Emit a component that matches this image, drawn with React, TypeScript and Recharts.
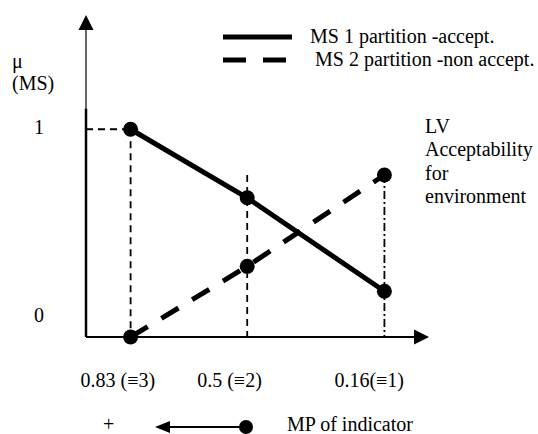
import React from 'react';
import { ComposedChart, Line, XAxis, YAxis, ReferenceLine, ReferenceDot } from 'recharts';

// ---- data ----
const xPositions = [0.13, 0.47, 0.87];
const xTickLabels = ['0.83 (≡3)', '0.5 (≡2)', '0.16(≡1)'];
const ms1Values = [1, 0.67, 0.22];
const ms2Values = [0, 0.34, 0.78];
const yTicks = [0, 1];
const seriesNames = ['MS 1 partition -accept.', ' MS 2 partition -non accept.'];
const yTitle = ['μ', '(MS)'];
const rightLabel = ['LV', 'Acceptability', 'for', 'environment'];
const bottomLabel = 'MP of indicator';
const bottomSign = '+';

const data = xPositions.map((x, i) => ({ x, ms1: ms1Values[i], ms2: ms2Values[i] }));

const FONT = '"Liberation Serif", "Times New Roman", serif';
const FS = 20;
const txt = { fontFamily: FONT, fontSize: FS, fill: '#000' };

const renderDot = (p: any) => (
  <circle key={`dot-${p.dataKey}-${p.index}`} cx={p.cx} cy={p.cy} r={7.5} fill="#000" />
);

const XTick = (p: any) => {
  const v = p.payload && p.payload.value;
  let i = 0;
  let best = Infinity;
  xPositions.forEach((xp, k) => {
    const d = Math.abs(xp - v);
    if (d < best) { best = d; i = k; }
  });
  return (
    <text x={p.x - 50} y={387} style={txt} textAnchor="start">
      {xTickLabels[i]}
    </text>
  );
};

const YTick = (p: any) => {
  const v = p.payload && p.payload.value;
  return (
    <text x={39} y={p.y + (v === 0 ? -15 : 5)} style={txt} textAnchor="middle">
      {String(v)}
    </text>
  );
};

const upArrow = (p: any) => (
  <polygon points={`${p.cx},${p.cy} ${p.cx - 7.5},${p.cy + 15} ${p.cx + 7.5},${p.cy + 15}`} fill="#000" />
);
const rightArrow = (p: any) => (
  <polygon points={`${p.cx},${p.cy} ${p.cx - 15},${p.cy - 7.5} ${p.cx - 15},${p.cy + 7.5}`} fill="#000" />
);

const guide = { stroke: '#000', strokeWidth: 1.8, strokeDasharray: '7 5', ifOverflow: 'visible' as const };

export default function App() {
  return (
    <div style={{ position: 'absolute', left: 0, top: 0, width: 538, height: 434, background: '#fff' }}>
      <ComposedChart
        width={538}
        height={434}
        data={data}
        margin={{ top: 15, right: 109, bottom: 67, left: 46 }}
      >
        <XAxis
          type="number"
          dataKey="x"
          domain={[0, 1]}
          ticks={xPositions}
          interval={0}
          height={30}
          axisLine={false}
          tickLine={false}
          tick={XTick}
        />
        <YAxis
          type="number"
          domain={[0, 1.55]}
          ticks={yTicks}
          interval={0}
          width={40}
          axisLine={false}
          tickLine={false}
          tick={YTick}
        />
        {/* axes */}
        <ReferenceLine segment={[{ x: 0, y: 0 }, { x: 0, y: 1.1 }]} stroke="#000" strokeWidth={2.5} ifOverflow="visible" />
        <ReferenceLine segment={[{ x: 0, y: 1.1 }, { x: 0, y: 1.5 }]} stroke="#000" strokeWidth={1.2} ifOverflow="visible" />
        <ReferenceLine segment={[{ x: 0, y: 0 }, { x: 0.97, y: 0 }]} stroke="#000" strokeWidth={2} ifOverflow="visible" />
        <ReferenceDot x={0} y={1.55} shape={upArrow} ifOverflow="visible" />
        <ReferenceDot x={1} y={0} shape={rightArrow} ifOverflow="visible" />
        {/* guides */}
        <ReferenceLine segment={[{ x: 0, y: ms1Values[0] }, { x: xPositions[0], y: ms1Values[0] }]} {...guide} />
        <ReferenceLine segment={[{ x: xPositions[0], y: ms1Values[0] }, { x: xPositions[0], y: 0 }]} {...guide} />
        <ReferenceLine segment={[{ x: xPositions[1], y: ms2Values[2] }, { x: xPositions[1], y: 0 }]} {...guide} />
        <ReferenceLine
          segment={[{ x: xPositions[2], y: ms2Values[2] }, { x: xPositions[2], y: 0 }]}
          {...guide}
          strokeDasharray="8 3 2 3"
        />
        {/* series */}
        <Line
          dataKey="ms1"
          name={seriesNames[0]}
          type="linear"
          stroke="#000"
          strokeWidth={5}
          dot={renderDot}
          activeDot={false}
          isAnimationActive={false}
        />
        <Line
          dataKey="ms2"
          name={seriesNames[1]}
          type="linear"
          stroke="#000"
          strokeWidth={5}
          strokeDasharray="20 16"
          dot={renderDot}
          activeDot={false}
          isAnimationActive={false}
        />
      </ComposedChart>
      <svg
        width={538}
        height={434}
        style={{ position: 'absolute', left: 0, top: 0, pointerEvents: 'none' }}
      >
        {/* legend */}
        <line x1={223} y1={37} x2={292} y2={37} stroke="#000" strokeWidth={5} />
        <line x1={223} y1={60} x2={292} y2={60} stroke="#000" strokeWidth={5} strokeDasharray="23 17" />
        <text x={310} y={43} style={{ ...txt, whiteSpace: 'pre' }}>{seriesNames[0]}</text>
        <text x={310} y={66} style={{ ...txt, whiteSpace: 'pre' }}>{seriesNames[1]}</text>
        {/* y title */}
        {yTitle.map((t, i) => (
          <text key={t} x={12} y={68 + i * 22} style={txt}>{t}</text>
        ))}
        {/* right label */}
        {rightLabel.map((t, i) => (
          <text key={t} x={425} y={133 + i * 23.3} style={txt}>{t}</text>
        ))}
        {/* bottom indicator */}
        <text x={103} y={431} style={txt}>{bottomSign}</text>
        <line x1={165} y1={427} x2={246} y2={427} stroke="#000" strokeWidth={2} />
        <polygon points="155,427 170,421 170,433" fill="#000" />
        <circle cx={246} cy={427} r={7} fill="#000" />
        <text x={287} y={431} style={txt}>{bottomLabel}</text>
      </svg>
    </div>
  );
}
